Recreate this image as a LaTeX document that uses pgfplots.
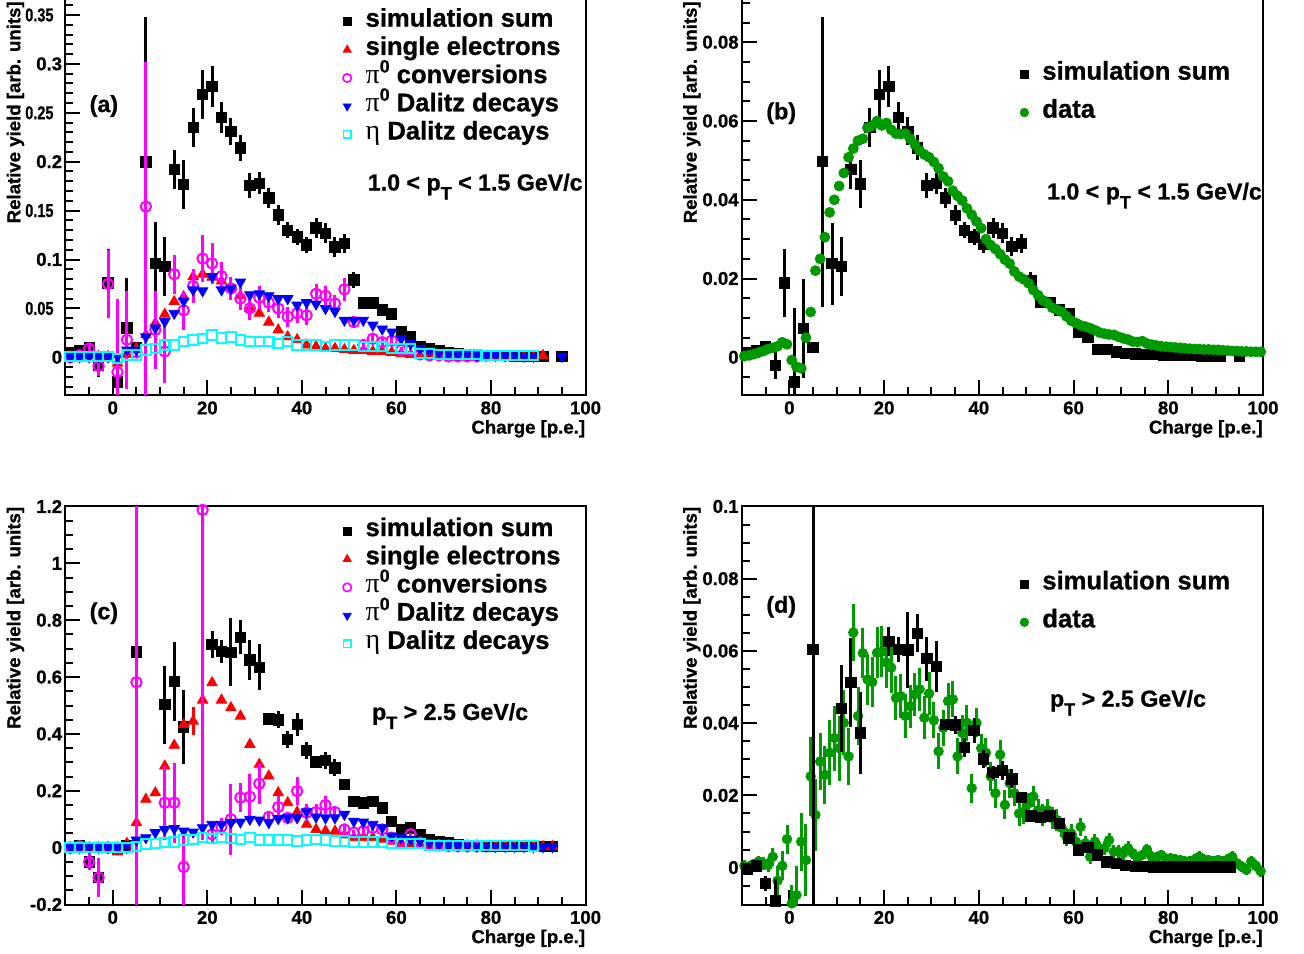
\documentclass[border=0pt]{standalone}
\usepackage{fontspec}
\setmainfont{Liberation Sans}[BoldFeatures={FakeBold=0.9}]
\newfontfamily\serifgr{Liberation Serif}
\usepackage{graphicx}
\usepackage{pgfplots}
\pgfplotsset{compat=1.18}
\usepackage{pgfplotstable}
\definecolor{rootgreen}{RGB}{0,153,0}
\definecolor{rootmag}{RGB}{255,0,255}
\definecolor{rootcyan}{RGB}{0,255,255}
\definecolor{rootred}{RGB}{255,0,0}
\definecolor{rootblue}{RGB}{0,0,255}
\newcommand\tfont{\fontsize{9.3}{11}\selectfont\bfseries}
\newcommand\lfont{\fontsize{12.8}{14}\selectfont\bfseries}
\newcommand\afont{\fontsize{11.6}{13}\selectfont\bfseries}
\newcommand\sq[1]{\scalebox{0.78}[1]{#1}\kern4.3pt}
\newcommand\pizero{{\serifgr\mdseries\fontsize{14}{14}\selectfont π}\smash{\raisebox{5.3pt}{\fontsize{8.9}{8.9}\selectfont 0}}}
\newcommand\etasym{{\serifgr\mdseries\fontsize{14}{14}\selectfont η}}
\newcommand\pT{p\raisebox{-4.5pt}{\fontsize{9}{9}\selectfont T}}

\pgfplotsset{
  rootaxis/.style={
    scale only axis, width=260pt, height=199pt, anchor=south west,
    xmin=-10, xmax=100,
    axis line style={line width=1pt},
    every tick/.style={line width=1pt, black},
    tick align=inside, tick pos=left,
    major tick length=7.5pt, minor tick length=3.8pt,
    xtick={0,20,40,60,80,100}, xticklabels={0,20,40,60,80,100},
    minor xtick={-5,5,10,15,25,30,35,45,50,55,65,70,75,85,90,95},
    tick label style={font=\tfont},
    xticklabel style={inner sep=0pt, yshift=-3pt},
    yticklabel style={inner sep=0pt, xshift=-1.5pt},
    xlabel={Charge [p.e.]},
    ylabel={Relative yield [arb. units]},
    every axis x label/.style={at={(axis description cs:1,-0.085)}, anchor=east, inner sep=0pt, font=\tfont},
    every axis y label/.style={at={(axis description cs:-0.0962,1)}, rotate=90, anchor=east, inner sep=0pt, font=\tfont},
    clip mode=individual,
    legend cell align=left,
    legend style={draw=none, fill=none, inner sep=0pt, font=\lfont, anchor=north west,
      nodes={inner sep=0pt, text height=9.6pt, text depth=4.5pt}, row sep=0pt, column sep=3.8pt},
    legend image code/.code={\path (-5pt,-2pt) (5pt,2pt); \draw[##1] plot coordinates {(0pt,0pt)};},
  },
  topylabel/.style={every axis y label/.style={at={(axis description cs:-0.0962,0.99)}, rotate=90, anchor=east, inner sep=0pt, font=\tfont}},
  sumstyle/.style={only marks, mark=square*, mark size=2.6pt, black, forget plot,
    error bars/.cd, y dir=both, y explicit, error mark=none, error bar style={line width=1.5pt, black}},
  sestyle/.style={only marks, mark=triangle*, mark size=3pt, rootred, forget plot},
  convstyle/.style={only marks, mark=o, mark size=2.6pt, line width=1pt, rootmag, forget plot,
    error bars/.cd, y dir=both, y explicit, error mark=none, error bar style={line width=1.5pt, rootmag}},
  dalstyle/.style={only marks, mark=triangle*, mark size=3pt, mark options={rotate=180}, rootblue, forget plot},
  etastyle/.style={only marks, mark=square, mark size=2.4pt, line width=1pt, rootcyan, forget plot},
  legsum/.style={only marks, mark=square*, mark size=2pt, black},
  legse/.style={only marks, mark=triangle*, mark size=2.3pt, rootred},
  legconv/.style={only marks, mark=o, mark size=2.1pt, line width=0.8pt, rootmag},
  legdal/.style={only marks, mark=triangle*, mark size=2.3pt, mark options={rotate=180}, rootblue},
  legeta/.style={only marks, mark=square, mark size=1.9pt, line width=0.8pt, rootcyan},
  legdata/.style={only marks, mark=*, mark size=2.1pt, rootgreen},
}

% ---------------- panel (a) ----------------
\pgfplotstableread{
x y e
-9 0.005 0.002
-7 0.007 0.002
-5 0.0095 0.004
-3 -0.0085 0.012
-1 0.076 0.035
1 -0.025 0.075
3 0.030 0.051
5 0.010 0.005
7 0.200 0.148
9 0.096 0.042
11 0.093 0.030
13 0.192 0.020
15 0.177 0.025
17 0.235 0.020
19 0.269 0.025
21 0.277 0.021
23 0.245 0.016
25 0.231 0.014
27 0.214 0.013
29 0.1755 0.013
31 0.178 0.011
33 0.163 0.010
35 0.1455 0.010
37 0.130 0.008
39 0.123 0.008
41 0.115 0.008
43 0.1325 0.010
45 0.127 0.010
47 0.113 0.010
49 0.1165 0.010
51 0.079 0.008
53 0.0558 0.003
55 0.0558 0.003
57 0.0484 0.003
59 0.0443 0.003
61 0.026 0.002
63 0.021 0.002
65 0.011 0.001
67 0.009 0.001
69 0.007 0.001
71 0.005 0.001
73 0.004 0.001
75 0.003 0.001
77 0.003 0.001
79 0.002 0.001
81 0.002 0.001
83 0.002 0.001
85 0.0015 0.001
87 0.0015 0.001
89 0.001 0.001
91 0.001 0.001
95 0.001 0.001
}\Asum
\pgfplotstableread{
x y
-9 0.001
-7 0.001
-5 0.002
-3 0.001
-1 0.001
1 -0.006
3 0.003
5 0.009
7 0.023
9 0.035
11 0.044
13 0.057
15 0.062
17 0.0825
19 0.085
21 0.082
23 0.078
25 0.0715
27 0.063
29 0.050
31 0.045
33 0.036
35 0.028
37 0.021
39 0.018
41 0.0126
43 0.011
45 0.009
47 0.009
49 0.008
51 0.007
53 0.007
55 0.006
57 0.006
59 0.005
61 0.004
63 0.003
65 0.002
67 0.002
69 0.002
71 0.0015
73 0.0015
75 0.001
77 0.001
79 0.001
81 0.001
83 0.001
85 0.001
87 0.001
89 0.001
91 0.002
}\Ase
\pgfplotstableread{
x y ep em
-9 0.000 0.002 0.002
-7 0.002 0.003 0.003
-5 0.009 0.005 0.005
-3 -0.009 0.010 0.010
-1 0.075 0.035 0.035
1 -0.015 0.075 0.075
3 0.018 0.050 0.050
5 0.005 0.005 0.005
7 0.154 0.148 0.200
9 0.028 0.040 0.040
11 0.006 0.032 0.032
13 0.085 0.020 0.020
15 0.048 0.020 0.020
17 0.073 0.017 0.017
19 0.101 0.024 0.024
21 0.096 0.021 0.021
23 0.083 0.014 0.014
25 0.0705 0.012 0.012
27 0.060 0.012 0.012
29 0.050 0.012 0.012
31 0.061 0.012 0.012
33 0.056 0.010 0.010
35 0.050 0.010 0.010
37 0.0415 0.010 0.010
39 0.045 0.010 0.010
41 0.043 0.010 0.010
43 0.065 0.010 0.010
45 0.063 0.010 0.010
47 0.055 0.009 0.009
49 0.0695 0.012 0.012
51 0.036 0.006 0.006
53 0.0126 0.004 0.004
55 0.019 0.005 0.005
57 0.0155 0.005 0.005
59 0.017 0.005 0.005
61 0.0075 0.003 0.003
63 0.008 0.003 0.003
65 0.003 0.002 0.002
67 0.002 0.001 0.001
69 0.002 0.001 0.001
71 0.001 0.001 0.001
73 0.001 0.001 0.001
75 0.001 0.001 0.001
77 0.001 0.001 0.001
}\Aconv
\pgfplotstableread{
x y
-9 0.0005
-7 0.0005
-5 0.0005
-3 0.0005
-1 0.0005
1 0.001
3 0.0075
5 0.0075
7 0.021
9 0.030
11 0.0365
13 0.045
15 0.0575
17 0.069
19 0.068
21 0.0825
23 0.069
25 0.0705
27 0.077
29 0.064
31 0.065
33 0.063
35 0.060
37 0.060
39 0.0535
41 0.056
43 0.0545
45 0.050
47 0.047
49 0.038
51 0.038
53 0.038
55 0.033
57 0.029
59 0.026
61 0.019
63 0.014
65 0.009
67 0.007
69 0.005
71 0.004
73 0.003
75 0.003
77 0.002
79 0.002
81 0.002
83 0.0015
85 0.0015
87 0.001
89 0.001
95 0.001
}\Adal
\pgfplotstableread{
x y
-9 0.001
-7 0.001
-5 0.001
-3 0.001
-1 0.001
1 -0.001
3 0.0025
5 0.0025
7 0.0075
9 0.009
11 0.0126
13 0.0126
15 0.016
17 0.0177
19 0.0194
21 0.0228
23 0.020
25 0.021
27 0.0177
29 0.016
31 0.016
33 0.016
35 0.014
37 0.016
39 0.0126
41 0.0126
43 0.0126
45 0.011
47 0.0126
49 0.0126
51 0.0126
53 0.011
55 0.011
57 0.011
59 0.009
61 0.009
63 0.009
65 0.004
67 0.004
69 0.003
71 0.003
73 0.003
75 0.003
77 0.003
79 0.002
81 0.002
83 0.002
85 0.002
87 0.002
89 0.002
}\Aeta

% ---------------- panel (b) ----------------
\pgfplotstableread{
x y e
-9 0.0012 0.0005
-7 0.0017 0.0005
-5 0.0026 0.001
-3 -0.0021 0.0035
-1 0.0189 0.0087
1 -0.0062 0.0186
3 0.0074 0.0126
5 0.0025 0.0012
7 0.0497 0.0368
9 0.0238 0.0104
11 0.0231 0.0075
13 0.0477 0.005
15 0.0440 0.0062
17 0.0584 0.005
19 0.0668 0.0062
21 0.0688 0.0052
23 0.0609 0.004
25 0.0574 0.0035
27 0.0532 0.0032
29 0.0436 0.0032
31 0.0442 0.0027
33 0.0405 0.0025
35 0.0361 0.0025
37 0.0323 0.002
39 0.0306 0.002
41 0.0286 0.002
43 0.0329 0.0025
45 0.0315 0.0025
47 0.0281 0.0025
49 0.0289 0.0025
51 0.0196 0.002
53 0.0139 0.0008
55 0.0139 0.0008
57 0.0120 0.0008
59 0.0110 0.0008
61 0.0065 0.0005
63 0.0052 0.0005
65 0.0020 0.0003
67 0.0020 0.0003
69 0.0014 0.0003
71 0.0010 0.0002
73 0.0009 0.0002
75 0.0008 0.0002
77 0.0007 0.0002
79 0.0006 0.0002
81 0.0005 0.0002
83 0.0005 0.0002
85 0.0005 0.0002
87 0.0004 0.0002
89 0.0004 0.0002
91 0.0004 0.0002
95 0.0004 0.0002
}\Bsum
\pgfplotstableread{
x y
-9.5 0.0003
-8.5 0.0005
-7.5 0.0008
-6.5 0.0012
-5.5 0.0016
-4.5 0.0021
-3.5 0.0024
-2.5 0.0028
-1.5 0.0038
-0.5 0.0033
0.5 -0.0007
1.5 -0.0024
2.5 -0.0028
3.5 0.0050
4.5 0.0115
5.5 0.0220
6.5 0.0250
7.5 0.0305
8.5 0.0368
9.5 0.0400
10.5 0.0435
11.5 0.0468
12.5 0.0508
13.5 0.0530
14.5 0.0550
15.5 0.0555
16.5 0.0583
17.5 0.0588
18.5 0.0600
19.5 0.0589
20.5 0.0595
21.5 0.0578
22.5 0.0568
23.5 0.0567
24.5 0.0568
25.5 0.0555
26.5 0.0540
27.5 0.0525
28.5 0.0515
29.5 0.0508
30.5 0.0496
31.5 0.0480
32.5 0.0459
33.5 0.0447
34.5 0.0423
35.5 0.0410
36.5 0.0398
37.5 0.0378
38.5 0.0362
39.5 0.0345
40.5 0.0328
41.5 0.0300
42.5 0.0285
43.5 0.0275
44.5 0.0262
45.5 0.0248
46.5 0.0238
47.5 0.0218
48.5 0.0205
49.5 0.0198
50.5 0.0188
51.5 0.0171
52.5 0.0158
53.5 0.0145
54.5 0.0138
55.5 0.0126
56.5 0.0121
57.5 0.0116
58.5 0.0104
59.5 0.0093
60.5 0.0087
61.5 0.0081
62.5 0.0078
63.5 0.0074
64.5 0.0069
65.5 0.0063
66.5 0.0060
67.5 0.0058
68.5 0.0057
69.5 0.0052
70.5 0.0048
71.5 0.0045
72.5 0.0040
73.5 0.0039
74.5 0.0041
75.5 0.0035
76.5 0.0032
77.5 0.0030
78.5 0.0028
79.5 0.0027
80.5 0.0026
81.5 0.0025
82.5 0.0024
83.5 0.0023
84.5 0.0022
85.5 0.0021
86.5 0.0021
87.5 0.0020
88.5 0.0020
89.5 0.0019
90.5 0.0019
91.5 0.0018
92.5 0.0017
93.5 0.0016
94.5 0.0016
95.5 0.0015
96.5 0.0015
97.5 0.0014
98.5 0.0014
99.5 0.0014
}\Bdata

% ---------------- panel (c) ----------------
\pgfplotstableread{
x y e
-9 0.000 0.005
-7 0.006 0.005
-5 -0.050 0.020
-3 -0.105 0.060
-1 0.000 0.005
1 -0.006 0.005
3 0.006 0.005
5 0.689 0.91
11 0.503 0.137
13 0.585 0.14
15 0.425 0.13
21 0.714 0.047
23 0.690 0.040
25 0.687 0.12
27 0.740 0.060
29 0.660 0.070
31 0.635 0.080
33 0.453 0.015
35 0.450 0.030
37 0.380 0.030
39 0.433 0.040
41 0.343 0.030
43 0.301 0.020
45 0.307 0.030
47 0.281 0.030
49 0.222 0.010
51 0.1635 0.005
53 0.158 0.005
55 0.1635 0.010
57 0.140 0.010
59 0.093 0.005
61 0.064 0.004
63 0.070 0.004
65 0.047 0.003
67 0.029 0.002
69 0.023 0.002
71 0.0175 0.002
73 0.010 0.001
75 0.008 0.001
77 0.007 0.001
79 0.006 0.001
81 0.005 0.001
83 0.005 0.001
85 0.005 0.001
87 0.004 0.001
89 0.004 0.001
91 0.004 0.001
93 0.004 0.001
}\Csum
\pgfplotstableread{
x y e
-9 0.000 0
-7 0.000 0
-5 0.000 0
-3 0.000 0
-1 0.000 0
1 -0.015 0
3 0.015 0
5 0.088 0
7 0.170 0
9 0.193 0
11 0.287 0
13 0.360 0
15 0.433 0
17 0.445 0.05
19 0.519 0
21 0.580 0
23 0.519 0
25 0.492 0
27 0.4625 0
29 0.363 0
31 0.293 0
33 0.252 0
35 0.193 0
37 0.158 0
39 0.125 0
41 0.082 0
43 0.064 0
45 0.0585 0
47 0.058 0
49 0.045 0
51 0.035 0
53 0.035 0
55 0.035 0
57 0.030 0
59 0.023 0
61 0.015 0
63 0.012 0
65 0.010 0
67 0.008 0
69 0.008 0
71 0.007 0
73 0.007 0
75 0.006 0
77 0.006 0
79 0.005 0
81 0.005 0
83 0.005 0
85 0.004 0
87 0.004 0
89 0.004 0
91 0.004 0
93 0.004 0
}\Cse
\pgfplotstableread{
x y ep em
-9 0.000 0.005 0.005
-7 0.005 0.005 0.005
-5 -0.050 0.030 0.030
-3 -0.105 0.070 0.070
-1 0.000 0.005 0.005
1 0.000 0.005 0.005
3 0.000 0.005 0.005
5 0.582 1.0 1.0
11 0.158 0.13 0.13
13 0.158 0.14 0.14
15 -0.068 0.132 0.15
19 1.188 1.16 1.16
21 0.047 0.030 0.030
23 0.074 0.030 0.030
25 0.100 0.125 0.125
27 0.176 0.050 0.050
29 0.179 0.080 0.080
31 0.225 0.070 0.070
33 0.108 0.020 0.020
35 0.143 0.040 0.040
37 0.105 0.020 0.020
39 0.199 0.050 0.050
41 0.123 0.030 0.030
43 0.125 0.030 0.030
45 0.150 0.030 0.030
47 0.125 0.020 0.020
49 0.064 0.015 0.015
51 0.053 0.010 0.010
53 0.058 0.010 0.010
55 0.070 0.010 0.010
57 0.064 0.010 0.010
59 0.035 0.008 0.008
61 0.023 0.006 0.006
63 0.047 0.006 0.006
65 0.018 0.004 0.004
67 0.010 0.003 0.003
69 0.008 0.002 0.002
71 0.006 0.002 0.002
73 0.005 0.002 0.002
75 0.005 0.002 0.002
77 0.005 0.002 0.002
}\Cconv
\pgfplotstableread{
x y
-9 0.000
-7 0.000
-5 0.000
-3 0.000
-1 0.000
1 0.000
3 0.012
5 0.027
7 0.035
9 0.053
11 0.064
13 0.067
15 0.0585
17 0.055
19 0.070
21 0.082
23 0.082
25 0.088
27 0.090
29 0.100
31 0.097
33 0.088
35 0.102
37 0.105
39 0.105
41 0.126
43 0.108
45 0.105
47 0.105
49 0.117
51 0.093
53 0.090
55 0.082
57 0.070
59 0.041
61 0.035
63 0.029
65 0.023
67 0.0175
69 0.012
71 0.008
73 0.007
75 0.006
77 0.005
79 0.005
81 0.004
83 0.004
85 0.004
87 0.004
89 0.003
91 0.003
93 0.003
}\Cdal
\pgfplotstableread{
x y
-9 0.000
-7 0.000
-5 0.000
-3 0.000
-1 0.000
1 0.000
3 0.000
5 0.004
7 0.012
9 0.015
11 0.0175
13 0.020
15 0.027
17 0.029
19 0.035
21 0.032
23 0.035
25 0.032
27 0.029
29 0.035
31 0.027
33 0.027
35 0.027
37 0.027
39 0.023
41 0.027
43 0.029
45 0.027
47 0.023
49 0.023
51 0.0196
53 0.0196
55 0.0196
57 0.0196
59 0.015
61 0.015
63 0.015
65 0.015
67 0.008
69 0.008
71 0.008
73 0.008
75 0.008
77 0.008
79 0.008
81 0.008
83 0.008
85 0.008
87 0.008
89 0.006
}\Ceta

% ---------------- panel (d) ----------------
\pgfplotstableread{
x y e
-9 -0.0003 0.0005
-7 0.0005 0.0005
-5 -0.0044 0.002
-3 -0.0092 0.006
5 0.0604 0.08
11 0.0441 0.012
13 0.0513 0.0123
15 0.0373 0.0114
21 0.0626 0.0041
23 0.0605 0.0035
25 0.0603 0.0105
27 0.0649 0.0053
29 0.0579 0.0061
31 0.0557 0.0070
33 0.0397 0.0013
35 0.0395 0.0026
37 0.0333 0.0026
39 0.0380 0.0035
41 0.0301 0.0026
43 0.0264 0.0018
45 0.0269 0.0026
47 0.0246 0.0026
49 0.0195 0.0009
51 0.0143 0.0005
53 0.0139 0.0005
55 0.0143 0.0009
57 0.0123 0.0009
59 0.0082 0.0005
61 0.0049 0.0004
63 0.0056 0.0004
65 0.0035 0.0003
67 0.0016 0.0002
69 0.0012 0.0002
71 0.0007 0.0001
73 0.0003 0.0001
75 0.0003 0.0001
77 0.0002 0.0001
79 0.0002 0.0001
81 0.0002 0.0001
83 0.0002 0.0001
85 0.0002 0.0001
87 0.0002 0.0001
89 0.0002 0.0001
91 0.0002 0.0001
93 0.0002 0.0001
}\Dsum
\pgfplotstableread{
x y e
-9.5 0.0005 0.0015
-8.5 0.0003 0.0015
-7.5 0.0010 0.0015
-6.5 0.0017 0.0015
-5.5 0.0012 0.0018
-4.5 0.0007 0.002
-3.5 0.0030 0.0025
-2.5 -0.0036 0.004
-1.5 0.0005 0.004
-0.5 0.0079 0.004
0.5 -0.0099 0.005
1.5 -0.0076 0.008
2.5 0.0072 0.008
3.5 0.0021 0.010
4.5 0.0253 0.011
5.5 0.0146 0.010
6.5 0.0294 0.008
7.5 0.0257 0.008
8.5 0.0318 0.009
9.5 0.0359 0.009
10.5 0.0331 0.009
11.5 0.0401 0.009
12.5 0.0308 0.008
13.5 0.0651 0.008
14.5 0.0420 0.008
15.5 0.0594 0.007
16.5 0.0521 0.007
17.5 0.0514 0.007
18.5 0.0595 0.007
19.5 0.0598 0.007
20.5 0.0568 0.007
21.5 0.0554 0.007
22.5 0.0470 0.006
23.5 0.0475 0.006
24.5 0.0420 0.006
25.5 0.0447 0.006
26.5 0.0480 0.006
27.5 0.0494 0.006
28.5 0.0415 0.006
29.5 0.0482 0.006
30.5 0.0408 0.005
31.5 0.0322 0.005
32.5 0.0387 0.005
33.5 0.0461 0.005
34.5 0.0466 0.005
35.5 0.0308 0.005
36.5 0.0373 0.005
37.5 0.0401 0.005
38.5 0.0220 0.004
39.5 0.0401 0.004
40.5 0.0331 0.004
41.5 0.0318 0.004
42.5 0.0253 0.004
43.5 0.0206 0.004
44.5 0.0313 0.004
45.5 0.0174 0.004
46.5 0.0234 0.004
47.5 0.0206 0.0035
48.5 0.0150 0.0035
49.5 0.0155 0.0035
50.5 0.0178 0.003
51.5 0.0197 0.003
52.5 0.0159 0.003
53.5 0.0146 0.003
54.5 0.0159 0.003
55.5 0.0137 0.003
56.5 0.0132 0.003
57.5 0.0110 0.0025
58.5 0.0086 0.0025
59.5 0.0095 0.0025
60.5 0.0072 0.0025
61.5 0.0113 0.0025
62.5 0.0067 0.002
63.5 0.0030 0.002
64.5 0.0072 0.002
65.5 0.0050 0.002
66.5 0.0054 0.002
67.5 0.0076 0.002
68.5 0.0044 0.002
69.5 0.0044 0.002
70.5 0.0040 0.002
71.5 0.0054 0.002
72.5 0.0040 0.0015
73.5 0.0026 0.0015
74.5 0.0035 0.0015
75.5 0.0050 0.0015
76.5 0.0030 0.0015
77.5 0.0028 0.0015
78.5 0.0035 0.0015
79.5 0.0025 0.0015
80.5 0.0026 0.0015
81.5 0.0022 0.0015
82.5 0.0021 0.0015
83.5 0.0018 0.0015
84.5 0.0017 0.0015
85.5 0.0022 0.0015
86.5 0.0030 0.0015
87.5 0.0022 0.0015
88.5 0.0021 0.0015
89.5 0.0018 0.0015
90.5 0.0021 0.0015
91.5 0.0016 0.0015
92.5 0.0022 0.0015
93.5 0.0030 0.0015
94.5 0.0012 0.0015
95.5 0.0003 0.0015
96.5 -0.0006 0.0015
97.5 0.0017 0.0015
98.5 0.0005 0.0015
99.5 -0.0010 0.0015
}\Ddata

\begin{document}
\begin{tikzpicture}

% ===== (a) =====
\begin{axis}[rootaxis, topylabel, at={(32.75pt,279pt)},
  ymin=-0.0385, ymax=0.3684,
  ytick={0,0.05,0.1,0.15,0.2,0.25,0.3,0.35},
  yticklabels={0,\sq{0.05},0.1,\sq{0.15},0.2,\sq{0.25},0.3,\sq{0.35}},
  minor ytick={-0.03,-0.02,-0.01,0.01,0.02,0.03,0.04,0.06,0.07,0.08,0.09,0.11,0.12,0.13,0.14,0.16,0.17,0.18,0.19,0.21,0.22,0.23,0.24,0.26,0.27,0.28,0.29,0.31,0.32,0.33,0.34,0.36},
  legend style={at={(axis description cs:0.5202,0.9746)}},
]
\addplot[sumstyle] table[x=x,y=y,y error=e] {\Asum};
\addplot[sestyle] table[x=x,y=y] {\Ase};
\addplot[convstyle] table[x=x,y=y,y error plus=ep,y error minus=em] {\Aconv};
\addplot[dalstyle] table[x=x,y=y] {\Adal};
\addplot[etastyle] table[x=x,y=y] {\Aeta};
\addlegendimage{legsum}
\addlegendentry{simulation sum}
\addlegendimage{legse}
\addlegendentry{single electrons}
\addlegendimage{legconv}
\addlegendentry{\pizero\ conversions}
\addlegendimage{legdal}
\addlegendentry{\pizero\ Dalitz decays}
\addlegendimage{legeta}
\addlegendentry{\etasym\ Dalitz decays}
\node[anchor=base east, font=\afont, inner sep=0pt] at (rel axis cs:0.9952,0.5138) {1.0 < \pT\ < 1.5 GeV/c};
\node[anchor=west, font=\afont, inner sep=0pt] at (rel axis cs:0.0458,0.726) {(a)};
\end{axis}

% ===== (b) =====
\begin{axis}[rootaxis, topylabel, at={(371pt,279pt)}, width=260.5pt,
  ymin=-0.00957, ymax=0.0915,
  ytick={0,0.02,0.04,0.06,0.08},
  yticklabels={0,0.02,0.04,0.06,0.08},
  minor ytick={-0.005,0.005,0.01,0.015,0.025,0.03,0.035,0.045,0.05,0.055,0.065,0.07,0.075,0.085,0.09},
  legend style={at={(axis description cs:0.5212,0.8415)}, row sep=4.9pt},
]
\addplot[sumstyle] table[x=x,y=y,y error=e] {\Bsum};
\addplot[only marks, mark=*, mark size=2.5pt, rootgreen, forget plot] table[x=x,y=y] {\Bdata};
\addlegendimage{legsum}
\addlegendentry{simulation sum}
\addlegendimage{legdata}
\addlegendentry{data}
\node[anchor=base east, font=\afont, inner sep=0pt] at (rel axis cs:0.9985,0.4912) {1.0 < \pT\ < 1.5 GeV/c};
\node[anchor=west, font=\afont, inner sep=0pt] at (rel axis cs:0.0461,0.7078) {(b)};
\end{axis}

% ===== (c) =====
\begin{axis}[rootaxis, at={(32.75pt,24.25pt)},
  ymin=-0.2, ymax=1.2,
  ytick={-0.2,0,0.2,0.4,0.6,0.8,1,1.2},
  yticklabels={-0.2,0,0.2,0.4,0.6,0.8,1,1.2},
  minor ytick={-0.15,-0.1,-0.05,0.05,0.1,0.15,0.25,0.3,0.35,0.45,0.5,0.55,0.65,0.7,0.75,0.85,0.9,0.95,1.05,1.1,1.15},
  legend style={at={(axis description cs:0.5202,0.9749)}},
]
\addplot[sumstyle] table[x=x,y=y,y error=e] {\Csum};
\addplot[sestyle, error bars/.cd, y dir=both, y explicit, error mark=none, error bar style={line width=1.5pt, rootred}] table[x=x,y=y,y error=e] {\Cse};
\addplot[convstyle] table[x=x,y=y,y error plus=ep,y error minus=em] {\Cconv};
\addplot[dalstyle] table[x=x,y=y] {\Cdal};
\addplot[etastyle] table[x=x,y=y] {\Ceta};
\addlegendimage{legsum}
\addlegendentry{simulation sum}
\addlegendimage{legse}
\addlegendentry{single electrons}
\addlegendimage{legconv}
\addlegendentry{\pizero\ conversions}
\addlegendimage{legdal}
\addlegendentry{\pizero\ Dalitz decays}
\addlegendimage{legeta}
\addlegendentry{\etasym\ Dalitz decays}
\node[anchor=base west, font=\afont, inner sep=0pt] at (rel axis cs:0.5888,0.4636) {\pT\ > 2.5 GeV/c};
\node[anchor=west, font=\afont, inner sep=0pt] at (rel axis cs:0.0458,0.7317) {(c)};
\end{axis}

% ===== (d) =====
\begin{axis}[rootaxis, at={(371pt,24.25pt)}, width=260.5pt,
  ymin=-0.0102, ymax=0.1,
  ytick={0,0.02,0.04,0.06,0.08,0.1},
  yticklabels={0,0.02,0.04,0.06,0.08,0.1},
  minor ytick={-0.005,0.005,0.01,0.015,0.025,0.03,0.035,0.045,0.05,0.055,0.065,0.07,0.075,0.085,0.09,0.095},
  legend style={at={(axis description cs:0.5212,0.841)}, row sep=4.9pt},
]
\addplot[only marks, mark=*, mark size=2.4pt, rootgreen, forget plot,
  error bars/.cd, y dir=both, y explicit, error mark=none, error bar style={line width=1.5pt, rootgreen}]
  table[x=x,y=y,y error=e] {\Ddata};
\addplot[sumstyle] table[x=x,y=y,y error=e] {\Dsum};
\addlegendimage{legsum}
\addlegendentry{simulation sum}
\addlegendimage{legdata}
\addlegendentry{data}
\node[anchor=base west, font=\afont, inner sep=0pt] at (rel axis cs:0.5904,0.497) {\pT\ > 2.5 GeV/c};
\node[anchor=west, font=\afont, inner sep=0pt] at (rel axis cs:0.0461,0.7482) {(d)};
\end{axis}

\pgfresetboundingbox
\path[use as bounding box] (0pt,0pt) rectangle (652pt,476.5pt);
\end{tikzpicture}
\end{document}
